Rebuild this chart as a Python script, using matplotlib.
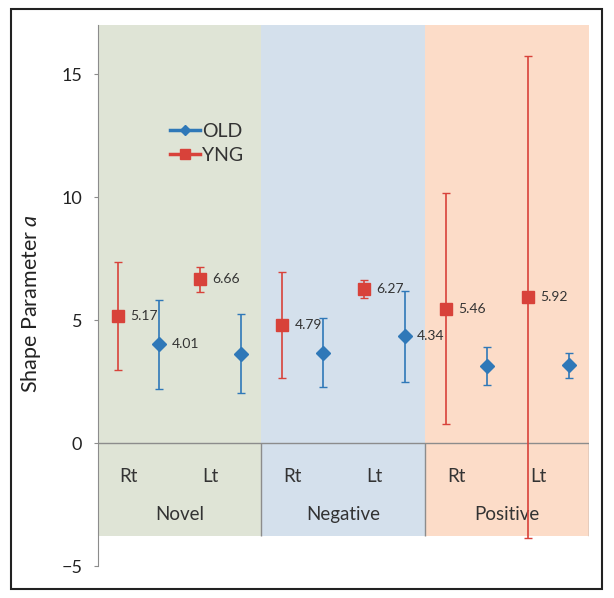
import numpy as np
import matplotlib
matplotlib.use('Agg')
import matplotlib.pyplot as plt
from matplotlib.patches import Rectangle

plt.rcParams['font.family'] = ['Lato', 'DejaVu Sans']
plt.rcParams['mathtext.fontset'] = 'custom'
plt.rcParams['mathtext.rm'] = 'Lato'
plt.rcParams['mathtext.it'] = 'Lato:italic'

# data
groups = ['Novel', 'Negative', 'Positive']
sides = ['Rt', 'Lt']
yng = [5.17, 6.66, 4.79, 6.27, 5.46, 5.92]
yng_err = [2.2, 0.5, 2.15, 0.37, 4.7, 9.8]
old = [4.01, 3.63, 3.67, 4.34, 3.13, 3.16]
old_err = [1.8, 1.6, 1.4, 1.85, 0.76, 0.51]
old_labels = ['4.01', None, None, '4.34', None, None]
band_colors = ['#dfe4d6', '#d4e0ec', '#fcdcc8']

c_old = '#2f78b8'
c_yng = '#d8423a'
txt = '#333333'
grey = '#8c8c8c'

fig = plt.figure(figsize=(6.14, 5.98), dpi=100)
ax = fig.add_axes([0.1588, 0.0535, 0.8005, 0.9047])

x = np.arange(len(yng))
ax.set_xlim(-0.5, 5.5)
ax.set_ylim(-5, 17)

# background bands per group
band_bottom = -3.78
for i, g in enumerate(groups):
    ax.fill_between([2*i-0.5, 2*i+1.5], band_bottom, 17, color=band_colors[i], lw=0, zorder=0)
    ax.text(2*i+0.5, -2.9, g, ha='center', va='center', fontsize=13.5, color=txt)
    for j, s in enumerate(sides):
        ax.text(2*i+j-0.12, -1.35, s, ha='center', va='center', fontsize=13.5, color=txt)

ax.axhline(0, color=grey, lw=1, zorder=1)
ax.vlines([1.5, 3.5, 5.5], band_bottom, 0, color=grey, lw=1, zorder=1)

# series
ax.errorbar(x+0.25, old, yerr=old_err, fmt='D', color=c_old, ms=7, ecolor=c_old,
            elinewidth=1.2, capsize=3, capthick=1, zorder=3)
ax.errorbar(x-0.25, yng, yerr=yng_err, fmt='s', color=c_yng, ms=9, ecolor=c_yng,
            elinewidth=1.2, capsize=3, capthick=1, zorder=3)

for xi, v in zip(x, yng):
    ax.annotate('%.2f' % v, (xi-0.25, v), xytext=(9, 0), textcoords='offset points',
                ha='left', va='center', fontsize=10, color=txt, zorder=4)
for xi, v, lab in zip(x, old, old_labels):
    if lab:
        ax.annotate(lab, (xi+0.25, v), xytext=(9, 0), textcoords='offset points',
                    ha='left', va='center', fontsize=10, color=txt, zorder=4)

# legend
h1, = ax.plot([], [], '-D', color=c_old, ms=5, lw=2.5)
h2, = ax.plot([], [], '-s', color=c_yng, ms=7, lw=2.5)
leg = ax.legend([h1, h2], ['OLD', 'YNG'], loc='upper left', bbox_to_anchor=(0.128, 0.837),
                frameon=False, fontsize=14, handlelength=1.55, handletextpad=0.1,
                labelspacing=0.38, borderpad=0)
for t in leg.get_texts():
    t.set_color(txt)

ax.set_xticks([])
ax.set_yticks([-5, 0, 5, 10, 15])
ax.tick_params(axis='y', direction='out', length=3, pad=8, color=grey, labelsize=13,
               labelcolor='#222222')
for sp in ['top', 'right', 'bottom']:
    ax.spines[sp].set_visible(False)
ax.spines['left'].set_color(grey)
ax.patch.set_alpha(0)

ax.set_ylabel('Shape Parameter $a$', fontsize=15.5, color='#222222')
ax.yaxis.set_label_coords(-0.111, 0.486)

# outer frame
fig.patches.append(Rectangle((11/614, 1-589/598), 591/614, 580/598, transform=fig.transFigure,
                             fill=False, lw=1.5, ec='#222222'))

fig.savefig('out.png', dpi=100)
